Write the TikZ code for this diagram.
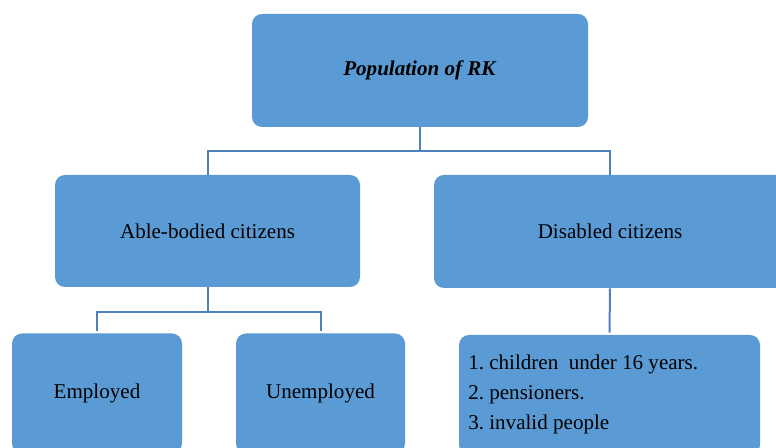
\documentclass[tikz,border=0pt]{standalone}
\usepackage{fontspec}
\setmainfont{Liberation Serif}
\frenchspacing
\definecolor{boxblue}{HTML}{5B9BD5}
\definecolor{lineblue}{HTML}{4F81BD}
\begin{document}
\begin{tikzpicture}[x=0.75pt,y=-0.75pt,
  box/.style={draw=none,fill=boxblue,rounded corners=7.5pt,inner sep=0pt,
    font=\fontsize{15.8}{19}\selectfont,text=black},
  conn/.style={draw=lineblue,line width=1.5pt}]
\clip (0,0) rectangle (776,448);
\fill[white] (0,0) rectangle (776,448);
\node[box,minimum width=252pt,minimum height=84.75pt] (top) at (420,70.5)
  {\textbf{\textit{Population of RK}}};
\node[box,minimum width=228.75pt,minimum height=84pt] (able) at (207.5,231)
  {Able-bodied citizens};
\node[box,minimum width=264pt,minimum height=84.75pt] (dis) at (610,231.5)
  {Disabled citizens};
\node[box,minimum width=127.5pt,minimum height=90pt] (emp) at (97,393.5)
  {Employed};
\node[box,minimum width=126.75pt,minimum height=90pt] (unemp) at (320.5,393.5)
  {Unemployed};
\node[box,minimum width=225.75pt,minimum height=90pt] (list) at (609.5,395) {};
\node[anchor=base west,inner sep=0pt,align=left,
  font=\fontsize{15.8}{22.5}\selectfont] (listtext) at (468,430)
  {1. children\ \ under 16 years.\\2. pensioners.\\3. invalid people};
\draw[conn] (top.south) -- ++(0,24) -| (able.north);
\draw[conn] (top.south) -- ++(0,24) -| (dis.north);
\draw[conn,shorten >=1.5pt] (able.south) -- ++(0,25) -| (emp.north);
\draw[conn,shorten >=1.5pt] (able.south) -- ++(0,25) -| (unemp.north);
\draw[conn,shorten >=1.5pt] (dis.south) -- (list.north);
\end{tikzpicture}
\end{document}
